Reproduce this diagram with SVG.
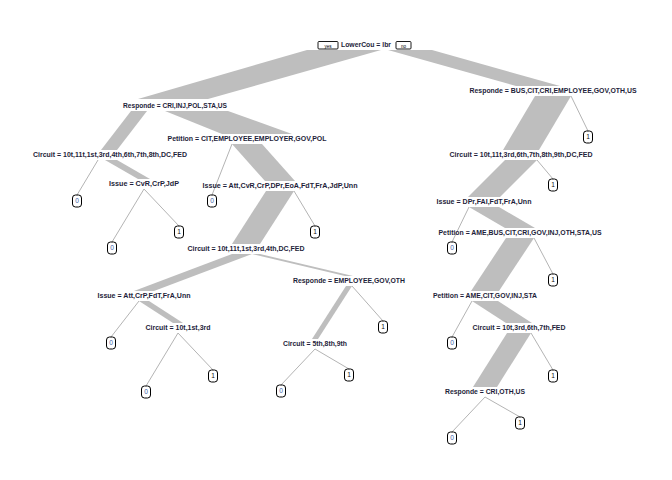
<svg xmlns="http://www.w3.org/2000/svg" width="672" height="480" viewBox="0 0 672 480">
<style>
.band{fill:#bebebe;stroke:none}
.thin{stroke:#b4b4b4;stroke-width:1;fill:none}
.lab{font-family:"Liberation Sans",Arial,sans-serif;font-weight:bold;font-size:6.6px;fill:#1e1e3a;text-anchor:middle}
.leafbox{fill:#ffffff;stroke:#000000;stroke-width:1}
.leaft{font-family:"Liberation Sans",Arial,sans-serif;font-size:6.6px;text-anchor:middle}
.z{fill:#3a62a8}
.o{fill:#111111}
.yn{fill:#ffffff;stroke:#000000;stroke-width:0.9}
.ynt{font-family:"Liberation Sans",Arial,sans-serif;font-size:4.6px;fill:#000;text-anchor:middle}
</style>
<rect width="672" height="480" fill="#ffffff"/>
<g id="connectors">
<polygon class="band" points="307,50 381,50 208,99 138,99"/>
<polygon class="band" points="388,50 432,50 560,86 516,86"/>
<polygon class="band" points="131,111 147,111 117,150 101,150"/>
<polygon class="band" points="165,111 228,111 292,134 222,134"/>
<line class="thin" x1="98" y1="160" x2="77" y2="195"/>
<polygon class="band" points="105,160 117,160 150,179 138,179"/>
<line class="thin" x1="144" y1="189" x2="112" y2="242"/>
<line class="thin" x1="144" y1="189" x2="179" y2="226"/>
<line class="thin" x1="232" y1="144" x2="212" y2="195"/>
<polygon class="band" points="232,144 262,144 295,181 265,181"/>
<polygon class="band" points="266,191 294,191 260,244 232,244"/>
<line class="thin" x1="294" y1="191" x2="315" y2="226"/>
<polygon class="band" points="232,254 252,254 154,291 134,291"/>
<polygon class="band" points="252,254 260,254 353,276 345,276"/>
<line class="thin" x1="139" y1="301" x2="111" y2="337"/>
<polygon class="band" points="139,301 149,301 183,323 173,323"/>
<line class="thin" x1="178" y1="333" x2="146" y2="386"/>
<line class="thin" x1="178" y1="333" x2="213" y2="370"/>
<polygon class="band" points="346,286 352,286 318,339 312,339"/>
<line class="thin" x1="352" y1="286" x2="383" y2="321"/>
<line class="thin" x1="315" y1="349" x2="281" y2="385"/>
<line class="thin" x1="315" y1="349" x2="349" y2="369"/>
<polygon class="band" points="535,96 571,96 539,150 503,150"/>
<line class="thin" x1="571" y1="96" x2="588" y2="131"/>
<polygon class="band" points="505,160 537,160 500,197 468,197"/>
<line class="thin" x1="537" y1="160" x2="553" y2="179"/>
<line class="thin" x1="469" y1="207" x2="452" y2="242"/>
<polygon class="band" points="469,207 499,207 535,228 505,228"/>
<polygon class="band" points="506,238 534,238 499,291 471,291"/>
<line class="thin" x1="534" y1="238" x2="553" y2="274"/>
<line class="thin" x1="472" y1="301" x2="452" y2="337"/>
<polygon class="band" points="472,301 498,301 532,323 506,323"/>
<polygon class="band" points="507,333 531,333 497,387 473,387"/>
<line class="thin" x1="531" y1="333" x2="553" y2="370"/>
<line class="thin" x1="485" y1="397" x2="452" y2="432"/>
<line class="thin" x1="485" y1="397" x2="520" y2="417"/>
</g>
<g id="n1"><rect class="yn" x="318" y="41.5" width="20" height="7.5" rx="1"/><text class="ynt" x="328" y="47.5">yes</text><text class="lab" x="366" y="47" textLength="50" lengthAdjust="spacingAndGlyphs">LowerCou = lbr</text><rect class="yn" x="396" y="41.5" width="15" height="7.5" rx="1"/><text class="ynt" x="403.5" y="47.5">no</text></g>
<g id="n2"><text class="lab" x="175" y="108.3" textLength="104" lengthAdjust="spacingAndGlyphs">Responde = CRI,INJ,POL,STA,US</text></g>
<g id="n3"><text class="lab" x="553" y="93.3" textLength="167" lengthAdjust="spacingAndGlyphs">Responde = BUS,CIT,CRI,EMPLOYEE,GOV,OTH,US</text></g>
<g id="n4"><text class="lab" x="110" y="157.3" textLength="154" lengthAdjust="spacingAndGlyphs">Circuit = 10t,11t,1st,3rd,4th,6th,7th,8th,DC,FED</text></g>
<g id="n5"><text class="lab" x="247" y="141.3" textLength="159" lengthAdjust="spacingAndGlyphs">Petition = CIT,EMPLOYEE,EMPLOYER,GOV,POL</text></g>
<g id="n6"><text class="lab" x="144" y="186.3" textLength="70" lengthAdjust="spacingAndGlyphs">Issue = CvR,CrP,JdP</text></g>
<g id="n7"><text class="lab" x="280" y="188.3" textLength="155" lengthAdjust="spacingAndGlyphs">Issue = Att,CvR,CrP,DPr,EoA,FdT,FrA,JdP,Unn</text></g>
<g id="n8"><text class="lab" x="246" y="251.3" textLength="117" lengthAdjust="spacingAndGlyphs">Circuit = 10t,11t,1st,3rd,4th,DC,FED</text></g>
<g id="n9"><text class="lab" x="144" y="298.3" textLength="93" lengthAdjust="spacingAndGlyphs">Issue = Att,CrP,FdT,FrA,Unn</text></g>
<g id="n10"><text class="lab" x="349" y="283.3" textLength="112" lengthAdjust="spacingAndGlyphs">Responde = EMPLOYEE,GOV,OTH</text></g>
<g id="n11"><text class="lab" x="178" y="330.3" textLength="65" lengthAdjust="spacingAndGlyphs">Circuit = 10t,1st,3rd</text></g>
<g id="n12"><text class="lab" x="315" y="346.3" textLength="64" lengthAdjust="spacingAndGlyphs">Circuit = 5th,8th,9th</text></g>
<g id="n13"><text class="lab" x="521" y="157.3" textLength="143" lengthAdjust="spacingAndGlyphs">Circuit = 10t,11t,3rd,6th,7th,8th,9th,DC,FED</text></g>
<g id="n14"><text class="lab" x="484" y="204.3" textLength="95" lengthAdjust="spacingAndGlyphs">Issue = DPr,FAI,FdT,FrA,Unn</text></g>
<g id="n15"><text class="lab" x="520" y="235.3" textLength="163" lengthAdjust="spacingAndGlyphs">Petition = AME,BUS,CIT,CRI,GOV,INJ,OTH,STA,US</text></g>
<g id="n16"><text class="lab" x="485" y="298.3" textLength="104" lengthAdjust="spacingAndGlyphs">Petition = AME,CIT,GOV,INJ,STA</text></g>
<g id="n17"><text class="lab" x="519" y="330.3" textLength="93" lengthAdjust="spacingAndGlyphs">Circuit = 10t,3rd,6th,7th,FED</text></g>
<g id="n18"><text class="lab" x="485" y="394.3" textLength="80" lengthAdjust="spacingAndGlyphs">Responde = CRI,OTH,US</text></g>
<g id="leaf1"><rect class="leafbox" x="72.5" y="195" width="9" height="12" rx="3"/><text class="leaft z" x="77" y="203.3">0</text></g>
<g id="leaf2"><rect class="leafbox" x="107.5" y="242" width="9" height="12" rx="3"/><text class="leaft z" x="112" y="250.3">0</text></g>
<g id="leaf3"><rect class="leafbox" x="174.5" y="226" width="9" height="12" rx="3"/><text class="leaft o" x="179" y="234.3">1</text></g>
<g id="leaf4"><rect class="leafbox" x="207.5" y="195" width="9" height="12" rx="3"/><text class="leaft z" x="212" y="203.3">0</text></g>
<g id="leaf5"><rect class="leafbox" x="310.5" y="226" width="9" height="12" rx="3"/><text class="leaft o" x="315" y="234.3">1</text></g>
<g id="leaf6"><rect class="leafbox" x="106.5" y="337" width="9" height="12" rx="3"/><text class="leaft z" x="111" y="345.3">0</text></g>
<g id="leaf7"><rect class="leafbox" x="141.5" y="386" width="9" height="12" rx="3"/><text class="leaft z" x="146" y="394.3">0</text></g>
<g id="leaf8"><rect class="leafbox" x="208.5" y="370" width="9" height="12" rx="3"/><text class="leaft o" x="213" y="378.3">1</text></g>
<g id="leaf9"><rect class="leafbox" x="378.5" y="321" width="9" height="12" rx="3"/><text class="leaft o" x="383" y="329.3">1</text></g>
<g id="leaf10"><rect class="leafbox" x="276.5" y="385" width="9" height="12" rx="3"/><text class="leaft z" x="281" y="393.3">0</text></g>
<g id="leaf11"><rect class="leafbox" x="344.5" y="369" width="9" height="12" rx="3"/><text class="leaft o" x="349" y="377.3">1</text></g>
<g id="leaf12"><rect class="leafbox" x="583.5" y="131" width="9" height="12" rx="3"/><text class="leaft o" x="588" y="139.3">1</text></g>
<g id="leaf13"><rect class="leafbox" x="548.5" y="179" width="9" height="12" rx="3"/><text class="leaft o" x="553" y="187.3">1</text></g>
<g id="leaf14"><rect class="leafbox" x="447.5" y="242" width="9" height="12" rx="3"/><text class="leaft z" x="452" y="250.3">0</text></g>
<g id="leaf15"><rect class="leafbox" x="548.5" y="274" width="9" height="12" rx="3"/><text class="leaft o" x="553" y="282.3">1</text></g>
<g id="leaf16"><rect class="leafbox" x="447.5" y="337" width="9" height="12" rx="3"/><text class="leaft z" x="452" y="345.3">0</text></g>
<g id="leaf17"><rect class="leafbox" x="548.5" y="370" width="9" height="12" rx="3"/><text class="leaft o" x="553" y="378.3">1</text></g>
<g id="leaf18"><rect class="leafbox" x="447.5" y="432" width="9" height="12" rx="3"/><text class="leaft z" x="452" y="440.3">0</text></g>
<g id="leaf19"><rect class="leafbox" x="515.5" y="417" width="9" height="12" rx="3"/><text class="leaft o" x="520" y="425.3">1</text></g>
</svg>
